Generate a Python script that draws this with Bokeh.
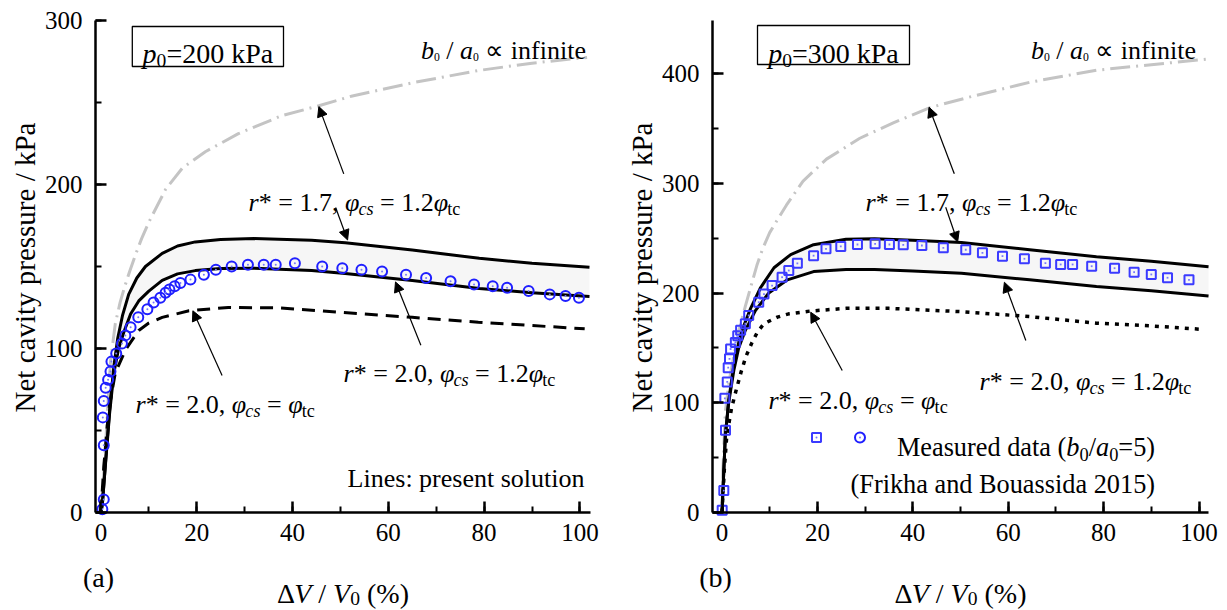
import math
from bokeh.plotting import figure
from bokeh.models import Label, Arrow, NormalHead, BoxAnnotation, SingleIntervalTicker, Range1d
from bokeh.layouts import row
from bokeh.embed import file_html
from bokeh.resources import INLINE

FONT = "Liberation Serif"

# ---------------- data: panel (a) p0 = 200 kPa ----------------
A_INF_X = [0, 0.5, 1, 1.5, 2, 3, 4, 5, 6, 7.2, 8.5, 10, 13.5, 17, 21.8, 28.7, 37.8, 45.5, 52.5, 65, 78.8, 90, 101.5]
A_INF_Y = [0, 20, 42, 68, 92, 115, 128, 138, 147, 157, 167, 177, 197, 210, 220, 231, 242, 248, 254, 262, 269.5, 274, 277.5]

A_R17_X = [0, 0.3, 1, 1.8, 2.7, 3.5, 4.5, 5.8, 7.5, 9.3, 12.8, 16, 19.7, 25, 32, 44, 51, 65, 79, 90, 102]
A_R17_Y = [0, 5, 32, 62, 89, 106, 120, 133, 143, 150, 158, 162.5, 165, 166.5, 167, 166, 164.5, 160, 155, 152, 149.5]

A_R20_X = [0, 0.3, 1, 1.8, 2.7, 3.7, 4.8, 6.2, 7.9, 10, 12.8, 16, 19.7, 25, 32, 44, 51, 65, 79, 90, 102]
A_R20_Y = [0, 5, 31, 60, 85, 100, 110, 121, 129, 135, 141.5, 145.5, 147.5, 148.8, 149, 147.6, 145.7, 141.5, 136.6, 134, 131.7]

A_R20E_X = [0, 0.6, 1.6, 3, 5.1, 7.9, 10, 12.8, 18.4, 26.6, 37, 50.4, 65, 78.8, 90, 101]
A_R20E_Y = [0, 28, 62, 85, 99, 111, 115.5, 119, 123, 125, 124.8, 122, 119, 116, 114, 112]

A_MEAS_X = [0.3, 0.6, 0.6, 0.4, 0.6, 1.0, 1.5, 2.0, 2.2, 3.2, 4.4, 5.1, 6.2, 7.8, 9.7, 11.0, 12.4, 13.5,
            14.3, 15.4, 16.6, 18.7, 21.5, 24.0, 27.3, 30.7, 34.0, 36.5, 40.5, 46.2, 50.4, 54.4, 58.7,
            63.7, 67.9, 73.0, 77.9, 81.8, 84.8, 89.3, 93.7, 97.0, 99.8]
A_MEAS_Y = [2, 8, 41, 58, 68, 76, 81, 86, 92, 97, 103, 108, 113, 119, 124, 128, 131, 134,
            136, 138, 140, 142, 145, 148, 150, 151, 151, 151, 152, 150, 149, 148, 147,
            145, 143, 141, 139, 138, 137, 135, 133, 132, 131]

# ---------------- data: panel (b) p0 = 300 kPa ----------------
B_INF_X = [0, 0.2, 0.7, 1.5, 2.5, 3.5, 4.9, 6, 7.3, 8.5, 10, 11.8, 13.5, 17, 21.9, 28.9, 35.9, 43.6, 52.3, 64.5, 78.5, 90, 101.5]
B_INF_Y = [0, 40, 92, 120, 143, 165, 188, 205, 225, 240, 255, 268, 280, 302, 322, 341, 355, 369, 379, 392, 403, 408, 413]

B_R17_X = [0, 0.3, 0.7, 1.4, 2.5, 3.4, 4.2, 6, 8.1, 10.9, 14.4, 19.2, 26, 32, 40, 50.2, 64.5, 78.5, 90, 102]
B_R17_Y = [0, 30, 70, 102, 135, 153, 166, 186, 205, 223, 235, 244, 249, 249.5, 248, 246, 239.5, 233, 229, 224]

B_R20_X = [0, 0.3, 0.7, 1.4, 2.5, 3.5, 4.9, 7, 9.8, 13.7, 19.2, 26, 32, 40, 50.2, 64.5, 78.5, 90, 102]
B_R20_Y = [0, 30, 70, 100, 130, 150, 166, 184, 200, 212, 219.5, 221.5, 221.5, 220, 218, 212, 206, 202, 197.3]

B_R20E_X = [0, 0.5, 1, 2, 3, 4, 5, 6.3, 7.5, 8.8, 11.6, 14, 18.4, 26, 35, 50.2, 64.5, 78.5, 90, 100.2]
B_R20E_Y = [0, 40, 70, 95, 112, 128, 142, 155, 165, 172, 178, 181, 183.5, 186, 186, 183, 178.5, 172.5, 170, 167]

B_MEAS_X = [0.04, 0.38, 0.73, 0.6, 1.1, 1.3, 1.57, 1.8, 2.8, 3.3, 3.9, 4.9, 5.6, 7.7, 8.8, 10.5, 12.6, 14.0,
            15.8, 19.2, 21.8, 24.9, 28.4, 32.1, 35.1, 38.0, 41.9, 46.4, 51.1, 54.6, 58.8, 63.4, 67.8,
            71.0, 73.5, 77.5, 82.3, 86.4, 90.0, 93.4, 97.9]
B_MEAS_Y = [2, 20, 75, 104, 119, 132, 140, 149, 155, 161, 166, 172, 179.5, 191.6, 199, 206.8, 214.4, 220.5,
            227, 234, 240.3, 242.4, 244.2, 244.8, 244.2, 243.9, 243.3, 241.2, 239.4, 236.6, 233.6, 231.2, 227.2,
            226, 226, 224.4, 222.6, 219, 216.9, 213.9, 212]

X_TICK_STEP = 20
Y_TICK_STEP = 100

# ---------------- text metrics (Times / Liberation Serif, em units) ----------------
REG = {c: 0.5 for c in "0123456789"}
REG.update({' ': 0.25, '%': 0.833, '(': 0.333, ')': 0.333, '*': 0.5, ',': 0.25, '.': 0.25, '/': 0.278,
            ':': 0.278, '=': 0.564, 'Δ': 0.612, 'φ': 0.521, '∝': 0.713,
            'a': 0.444, 'b': 0.5, 'c': 0.444, 'd': 0.5, 'e': 0.444, 'f': 0.333, 'h': 0.5, 'i': 0.278,
            'k': 0.5, 'l': 0.278, 'n': 0.5, 'o': 0.5, 'p': 0.5, 'r': 0.333, 's': 0.389, 't': 0.278,
            'u': 0.5, 'B': 0.667, 'F': 0.556, 'L': 0.611, 'M': 0.889, 'P': 0.556, 'V': 0.722})
IT = {'a': 0.5, 'b': 0.5, 'c': 0.444, 'p': 0.5, 'r': 0.389, 's': 0.389, 'V': 0.611, 'φ': 0.52}


def tw(s, italic, size):
    tab = IT if italic else REG
    return sum(tab.get(c, REG.get(c, 0.5)) for c in s) * size


H = 610
FT = 20     # page px of the top of the value axis
Y0 = 512    # page px of value 0 (x axis line)


class Panel:
    """Frame covers the whole figure; axes are drawn at fixed locations with bounds."""

    def __init__(self, page_left, fig_width, x0px, sx, xb, ytop):
        self.page_left = page_left
        self.x0px, self.sx = x0px, sx
        self.sy = (Y0 - FT) / ytop
        xr = (self.X(page_left), self.X(page_left + fig_width))
        yr = (self.Y(H), self.Y(0))
        self.fig = figure(width=fig_width, height=H, x_range=Range1d(*xr), y_range=Range1d(*yr),
                          min_border_left=0, min_border_right=0, min_border_top=0,
                          min_border_bottom=0, output_backend="svg", toolbar_location=None)
        p = self.fig
        p.grid.visible = False
        p.outline_line_color = None
        p.background_fill_color = "white"
        p.border_fill_color = "white"
        p.xaxis.ticker = SingleIntervalTicker(interval=X_TICK_STEP, num_minor_ticks=2)
        p.yaxis.ticker = SingleIntervalTicker(interval=Y_TICK_STEP, num_minor_ticks=2)
        p.xaxis.fixed_location = 0
        p.yaxis.fixed_location = xb[0]
        p.xaxis.bounds = xb
        p.yaxis.bounds = (0, ytop)
        for ax in (p.xaxis[0], p.yaxis[0]):
            ax.axis_line_width = 2.5
            ax.major_tick_line_width = 2.5
            ax.minor_tick_line_width = 2
            ax.major_tick_in = 11
            ax.major_tick_out = 0
            ax.minor_tick_in = 6
            ax.minor_tick_out = 0
            ax.major_label_text_font = FONT
            ax.major_label_text_font_size = "25px"
            ax.major_label_text_color = "black"
        p.xaxis.major_label_standoff = 11
        p.yaxis.major_label_standoff = 13
        # y axis title (rotated), centred on the value axis
        p.add_layout(Label(x=self.X(page_left + 24), y=self.Y((FT + Y0) / 2 + 1),
                           text="Net cavity pressure / kPa", angle=math.pi / 2, text_font=FONT,
                           text_font_size="29px", text_align="center", text_baseline="alphabetic",
                           text_color="black"))

    def X(self, px):
        return (px - self.x0px) / self.sx

    def Y(self, py):
        return (Y0 - py) / self.sy

    def rich(self, pieces, px, base, size, anchor="left"):
        total = sum(tw(t, it, size * sc) for t, it, sc, dy in pieces)
        if anchor == "center":
            x = px - total / 2
        elif anchor == "right":
            x = px - total
        else:
            x = px
        for t, it, sc, dy in pieces:
            fs = size * sc
            lead = len(t) - len(t.lstrip(" "))
            x += lead * REG[' '] * fs
            core = t.strip(" ")
            if core:
                self.fig.add_layout(Label(x=self.X(x), y=self.Y(base + dy), text=core, text_font=FONT,
                                          text_font_size=f"{fs:.1f}px",
                                          text_font_style="italic" if it else "normal",
                                          text_align="left", text_baseline="alphabetic",
                                          text_color="black"))
            x += tw(core, it, fs)
            trail = len(t) - len(t.rstrip(" ")) if core else 0
            x += trail * REG[' '] * fs

    def arrow(self, x0, y0, x1, y1):
        self.fig.add_layout(Arrow(end=NormalHead(size=10, line_color="black", fill_color="black", line_width=1),
                                  x_start=x0, y_start=y0, x_end=x1, y_end=y1,
                                  line_width=1.2, line_color="black"))

    def box(self, l, r, t, b):
        self.fig.add_layout(BoxAnnotation(left=self.X(l), right=self.X(r), top=self.Y(t), bottom=self.Y(b),
                                          fill_color=None, fill_alpha=0, line_color="black",
                                          line_alpha=1, line_width=1.3))


def curves(P, inf_x, inf_y, up_x, up_y, lo_x, lo_y, e_x, e_y, e_dash, e_width):
    p = P.fig
    p.patch(up_x + lo_x[::-1], up_y + lo_y[::-1], fill_color="#f6f6f6", line_color=None)
    p.line(inf_x, inf_y, line_color="#c4c4c4", line_width=3, line_dash="20 6 2 6")
    p.line(e_x, e_y, line_color="black", line_width=e_width, line_dash=e_dash)
    p.line(up_x, up_y, line_color="black", line_width=3)
    p.line(lo_x, lo_y, line_color="black", line_width=3)


I_, R_ = True, False

def r_label(r, tail):
    return [("r", I_, 1, 0), ("*", R_, 1, 0), (f" = {r}, ", R_, 1, 0), ("φ", I_, 1, 0),
            ("cs", I_, 0.7, 6)] + tail

TAIL_12 = [(" = 1.2", R_, 1, 0), ("φ", I_, 1, 0), ("tc", R_, 0.7, 6)]
TAIL_1 = [(" = ", R_, 1, 0), ("φ", I_, 1, 0), ("tc", R_, 0.7, 6)]
B0A0 = [("b", I_, 1, 0), ("0", R_, 0.45, 6), (" / ", R_, 1, 0), ("a", I_, 1, 0), ("0", R_, 0.45, 6),
        (" ∝ infinite", R_, 1, 0)]
XLAB = [("Δ", R_, 1, 0), ("V", I_, 1, 0), (" / ", R_, 1, 0), ("V", I_, 1, 0), ("0", R_, 0.7, 5),
        (" (%)", R_, 1, 0)]

# ---------------- panel (a) ----------------
A = Panel(0, 617, 100.4, 4.79, (-1.127, 102.21), 300)
curves(A, A_INF_X, A_INF_Y, A_R17_X, A_R17_Y, A_R20_X, A_R20_Y, A_R20E_X, A_R20E_Y, "13 8", 3)
A.fig.scatter(A_MEAS_X, A_MEAS_Y, marker="circle", size=10, fill_color=None, line_color="#1f1fff", line_width=2)
A.fig.scatter(A_MEAS_X, A_MEAS_Y, marker="circle", size=2, fill_color="#7777ff", line_color=None)

A.box(131.8, 283, 26, 66)
A.rich([("p", I_, 1, 0), ("0", R_, 0.7, 7), ("=200 kPa", R_, 1, 0)], 207.4, 53.3, 28, "center")
A.rich(B0A0, 585, 50, 26, "right")
A.rich(r_label("1.7", TAIL_12), 354, 202, 26, "center")
A.rich(r_label("2.0", TAIL_12), 449, 373, 26, "center")
A.rich(r_label("2.0", TAIL_1), 224.7, 404, 26, "center")
A.rich([("Lines: present solution", R_, 1, 0)], 584, 478, 26, "right")
A.rich([("(a)", R_, 1, 0)], 98, 577, 28, "center")
A.rich(XLAB, 342.5, 593, 28, "center")
A.arrow(50.7, 206.5, 45.5, 247.5)
A.arrow(49.0, 186.0, 51.5, 166.2)
A.arrow(66.8, 102.0, 61.5, 140.6)
A.arrow(25.3, 83.5, 19.2, 123.0)

# ---------------- panel (b) ----------------
B = Panel(617, 610, 721.5, 4.77, (-1.99, 102.0), 448.3)
curves(B, B_INF_X, B_INF_Y, B_R17_X, B_R17_Y, B_R20_X, B_R20_Y, B_R20E_X, B_R20E_Y, "4 6", 3.5)
B.fig.scatter(B_MEAS_X, B_MEAS_Y, marker="square", size=9, fill_color=None, line_color="#3b3bff", line_width=2)
B.fig.scatter(B_MEAS_X, B_MEAS_Y, marker="square", size=1.8, fill_color="#7777ff", line_color=None)

B.box(757, 909, 25, 64)
B.rich([("p", I_, 1, 0), ("0", R_, 0.7, 7), ("=300 kPa", R_, 1, 0)], 833, 53.3, 28, "center")
B.rich(B0A0, 1195, 50, 26, "right")
B.rich(r_label("1.7", TAIL_12), 971, 202, 26, "center")
B.rich(r_label("2.0", TAIL_12), 1085, 381, 26, "center")
B.rich(r_label("2.0", TAIL_1), 857.6, 400, 26, "center")
B.rich([("(b)", R_, 1, 0)], 715, 577, 28, "center")
B.rich(XLAB, 960, 593, 28, "center")
B.arrow(48.7, 308.6, 43.4, 369.3)
B.arrow(46.9, 278.2, 49.4, 246.5)
B.arrow(63.7, 156.7, 59.2, 209.8)
B.arrow(25.2, 129.4, 18.6, 182.5)

# legend
B.fig.scatter([B.X(816)], [B.Y(437)], marker="square", size=9, fill_color=None, line_color="#3b3bff", line_width=2)
B.fig.scatter([B.X(859.5)], [B.Y(437)], marker="circle", size=10, fill_color=None, line_color="#1f1fff", line_width=2)
B.fig.scatter([B.X(816), B.X(859.5)], [B.Y(437)] * 2, marker="circle", size=2, fill_color="#7777ff", line_color=None)
B.rich([("Measured data (", R_, 1, 0), ("b", I_, 1, 0), ("0", R_, 0.7, 7), ("/", R_, 1, 0), ("a", I_, 1, 0),
        ("0", R_, 0.7, 7), ("=5)", R_, 1, 0)], 1154.6, 446.5, 26.3, "right")
B.rich([("(Frikha and Bouassida 2015)", R_, 1, 0)], 1154.6, 484, 26.3, "right")

layout = row(A.fig, B.fig)
open("out.html", "w").write(file_html(layout, INLINE))
